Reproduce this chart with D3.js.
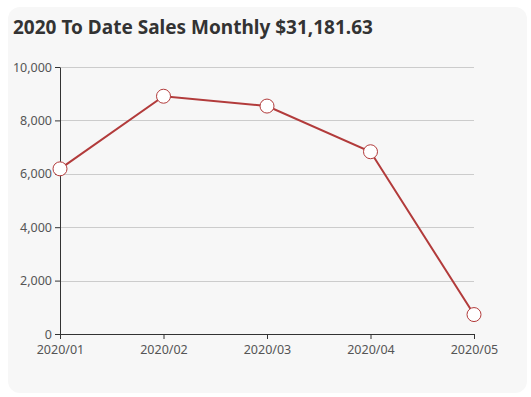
<!DOCTYPE html>
<html>
<head>
<meta charset="utf-8">
<script src="https://cdn.jsdelivr.net/npm/d3@7"></script>
<style>
  html, body { margin: 0; padding: 0; background: #ffffff; }
  #chart { width: 531px; height: 397px; }
</style>
</head>
<body>
<div id="chart"></div>
<script>
// monthly sales (sum = 31,181.63)
const months = ['2020/01', '2020/02', '2020/03', '2020/04', '2020/05'];
const sales = [6185.42, 8905.17, 8536.80, 6826.31, 727.93];
const yTicks = [0, 2000, 4000, 6000, 8000, 10000];
const titleText = '2020 To Date Sales Monthly $31,181.63';

const width = 531, height = 397;
const margin = { top: 67, right: 57, bottom: 63, left: 60 };
const lineColor = '#b23b3b';

const svg = d3.select('#chart').append('svg')
  .attr('width', width)
  .attr('height', height)
  .style('font-family', '"Noto Sans", "Open Sans", sans-serif');

// card background
svg.append('rect')
  .attr('x', 8).attr('y', 7)
  .attr('width', 519).attr('height', 386)
  .attr('rx', 12).attr('ry', 12)
  .attr('fill', '#f7f7f7');

svg.append('text')
  .attr('x', 13).attr('y', 34)
  .text(titleText)
  .style('font-size', '19px')
  .style('font-weight', 'bold')
  .style('fill', '#333');

const x = d3.scalePoint()
  .domain(months)
  .range([margin.left, width - margin.right]);

const y = d3.scaleLinear()
  .domain([0, 10000])
  .range([height - margin.bottom, margin.top]);

// gridlines
svg.append('g')
  .selectAll('line')
  .data(yTicks.filter(d => d > 0))
  .enter()
  .append('line')
  .attr('x1', margin.left)
  .attr('x2', width - margin.right)
  .attr('y1', d => Math.round(y(d)) + 0.5)
  .attr('y2', d => Math.round(y(d)) + 0.5)
  .attr('stroke', '#cccccc')
  .attr('stroke-width', 1);

const yAxis = svg.append('g')
  .attr('transform', `translate(${margin.left},0)`)
  .call(d3.axisLeft(y).tickValues(yTicks).tickFormat(d3.format(',')).tickSize(5).tickSizeOuter(0).tickPadding(3));

const xAxis = svg.append('g')
  .attr('transform', `translate(0,${height - margin.bottom})`)
  .call(d3.axisBottom(x).tickSize(5).tickSizeOuter(0).tickPadding(6));

[xAxis, yAxis].forEach(ax => {
  ax.select('.domain').attr('stroke', '#333');
  ax.selectAll('.tick line').attr('stroke', '#333');
  ax.selectAll('.tick text')
    .style('font-size', '12.5px')
    .style('font-family', '"Noto Sans", "Open Sans", sans-serif')
    .attr('fill', '#555');
});

const line = d3.line()
  .x((d, i) => x(months[i]))
  .y(d => y(d));

svg.append('path')
  .datum(sales)
  .attr('d', line)
  .attr('fill', 'none')
  .attr('stroke', lineColor)
  .attr('stroke-width', 2);

svg.append('g')
  .selectAll('circle')
  .data(sales)
  .enter()
  .append('circle')
  .attr('cx', (d, i) => x(months[i]))
  .attr('cy', d => y(d))
  .attr('r', 7)
  .attr('fill', '#fff')
  .attr('stroke', lineColor)
  .attr('stroke-width', 1);
</script>
</body>
</html>
